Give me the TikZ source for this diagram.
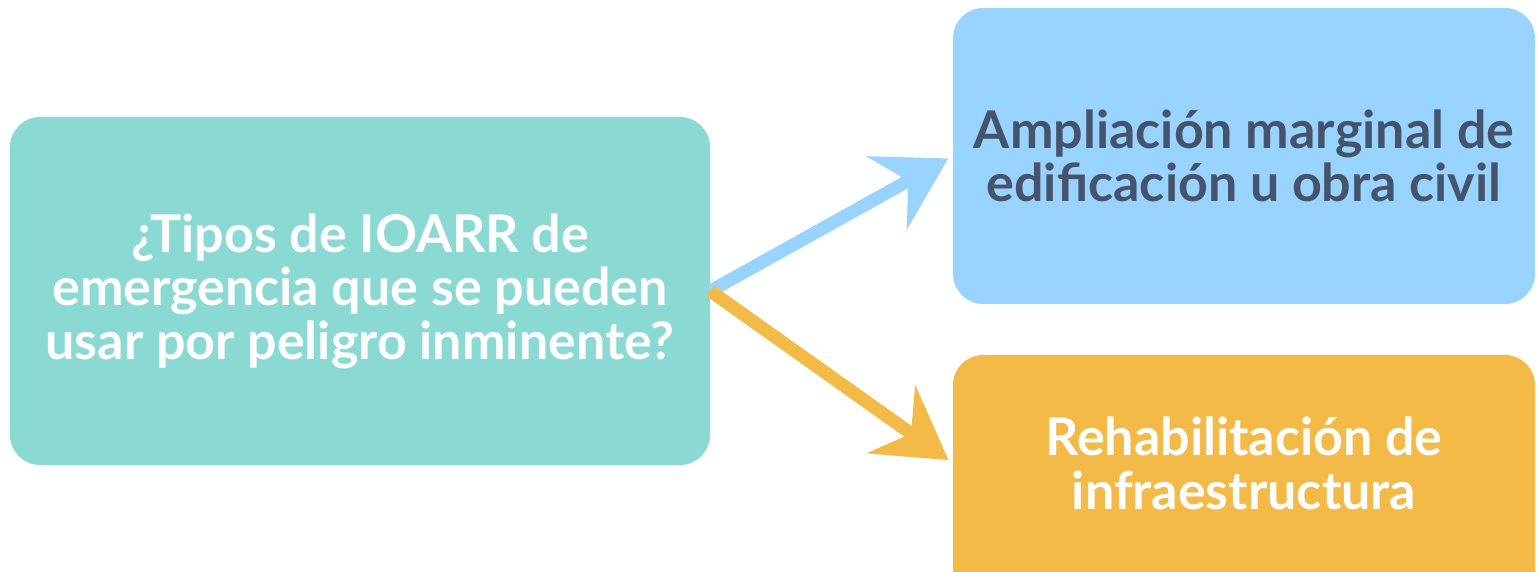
\documentclass[tikz,border=0pt]{standalone}
\usepackage{fontspec}
\setmainfont{Lato}
\usetikzlibrary{arrows.meta}
\definecolor{tealbox}{HTML}{8AD9D2}
\definecolor{bluebox}{HTML}{99D3FF}
\definecolor{orangebox}{HTML}{F3BA47}
\definecolor{slatetext}{HTML}{45546B}

\begin{document}
\begin{tikzpicture}[
		box/.style={rounded corners=0.6cm,inner sep=0pt,align=center,font=\bfseries\fontsize{29.6}{30.5}\selectfont},
		link/.style={line width=0.26cm,-{Stealth[length=1.4cm,width=1.65cm,inset=0.48cm]},shorten >=0.1cm}
		]
		\useasboundingbox (0,0) rectangle (30.76,-11.44);
		\clip (0,0) rectangle (30.76,-11.44);
		
		\node[box,fill=tealbox,text=white,minimum width=14cm,minimum height=6.96cm] (q) at (7.2,-5.82)
			{¿Tipos de IOARR de\\emergencia que se pueden\\usar por peligro inminente?};
		\node[box,fill=bluebox,text=slatetext,minimum width=11.64cm,minimum height=5.92cm] (amp) at (24.88,-3.12)
			{Ampliación marginal de\\edificación u obra civil};
		% runs past the bottom edge
		\node[box,fill=orangebox,text=white,text depth=0.88cm,minimum width=11.64cm,minimum height=5.2cm] (reh) at (24.88,-9.7)
			{Rehabilitación de\\infraestructura};
		\coordinate (rehin) at ([yshift=0.44cm]reh.west);
		
		\draw[link,bluebox] (q.east) -- (amp.west);
		\draw[link,orangebox] (q.east) -- (rehin);
	\end{tikzpicture}
\end{document}
